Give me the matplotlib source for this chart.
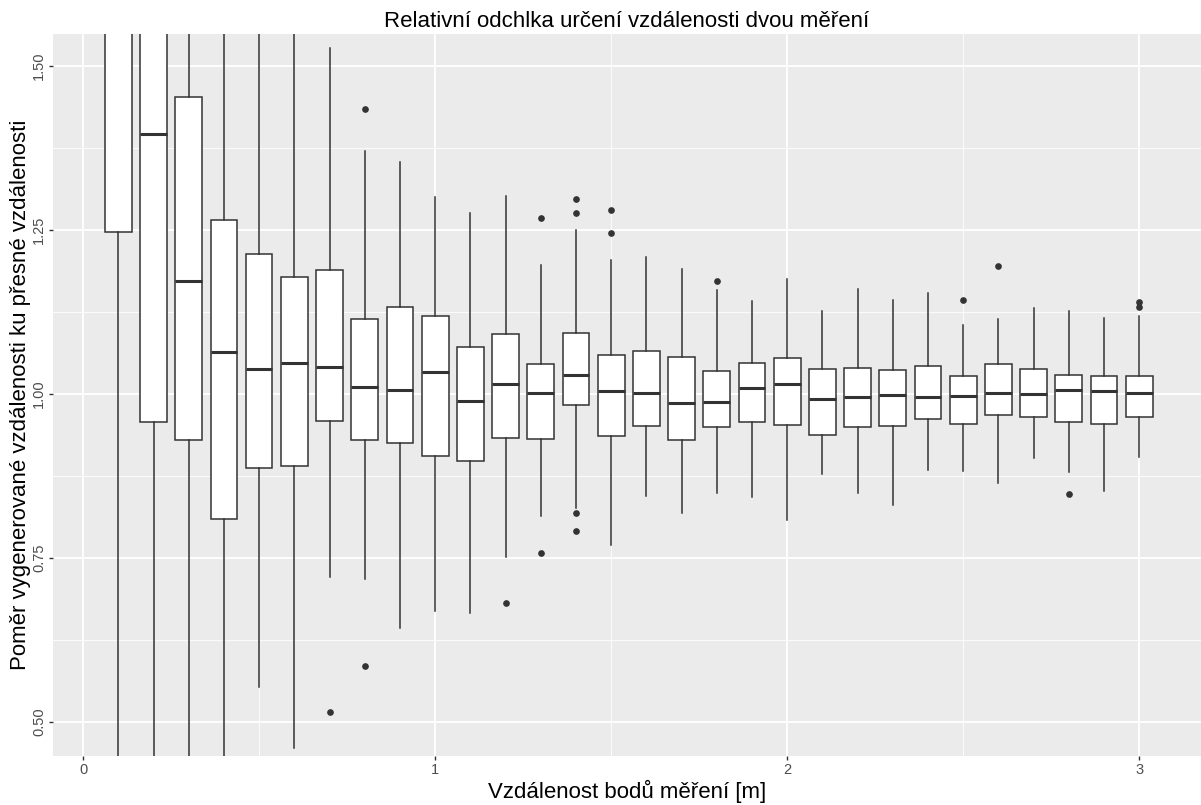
import numpy as np
import matplotlib
matplotlib.use("Agg")
import matplotlib.pyplot as plt
from matplotlib.ticker import MultipleLocator

plt.rcParams['font.family'] = ['Liberation Sans', 'DejaVu Sans']

# vzdalenosti (m) a statistiky krabicovych grafu
vzdalenost = [0.1, 0.2, 0.3, 0.4, 0.5, 0.6, 0.7, 0.8, 0.9, 1.0,
              1.1, 1.2, 1.3, 1.4, 1.5, 1.6, 1.7, 1.8, 1.9, 2.0,
              2.1, 2.2, 2.3, 2.4, 2.5, 2.6, 2.7, 2.8, 2.9, 3.0]
whis_lo = [0.30, 0.30, 0.30, 0.30, 0.554, 0.461, 0.721, 0.718, 0.643, 0.669,
           0.666, 0.752, 0.814, 0.826, 0.770, 0.845, 0.818, 0.849, 0.843, 0.808,
           0.878, 0.849, 0.831, 0.884, 0.883, 0.865, 0.902, 0.881, 0.852, 0.904]
q1 = [1.247, 0.958, 0.930, 0.810, 0.887, 0.890, 0.959, 0.930, 0.925, 0.905,
      0.898, 0.933, 0.931, 0.983, 0.936, 0.952, 0.930, 0.950, 0.958, 0.953,
      0.9375, 0.949, 0.952, 0.962, 0.954, 0.968, 0.965, 0.958, 0.955, 0.965]
median = [1.85, 1.396, 1.172, 1.064, 1.038, 1.047, 1.041, 1.011, 1.006, 1.034,
          0.989, 1.015, 1.001, 1.029, 1.004, 1.002, 0.986, 0.988, 1.009, 1.015,
          0.993, 0.995, 0.998, 0.996, 0.997, 1.002, 1.000, 1.006, 1.004, 1.002]
q3 = [2.50, 1.90, 1.453, 1.265, 1.214, 1.179, 1.189, 1.114, 1.133, 1.119,
      1.071, 1.091, 1.046, 1.093, 1.059, 1.065, 1.056, 1.035, 1.048, 1.055,
      1.038, 1.040, 1.036, 1.043, 1.028, 1.045, 1.038, 1.029, 1.028, 1.028]
whis_hi = [4.00, 3.00, 2.30, 2.00, 1.70, 1.70, 1.528, 1.370, 1.354, 1.300,
           1.276, 1.302, 1.196, 1.250, 1.204, 1.209, 1.191, 1.159, 1.142, 1.175,
           1.127, 1.160, 1.143, 1.154, 1.105, 1.114, 1.131, 1.127, 1.116, 1.119]
odlehle = [[], [], [], [], [], [], [0.515], [1.435, 0.586], [], [],
           [], [0.682], [1.268, 0.757], [1.298, 1.276, 0.819, 0.791], [1.280, 1.245], [], [], [1.173], [], [],
           [], [], [], [], [1.143], [1.195], [], [0.848], [], [1.140, 1.133]]

stats = []
for i in range(len(vzdalenost)):
    stats.append({'whislo': whis_lo[i], 'q1': q1[i], 'med': median[i],
                  'q3': q3[i], 'whishi': whis_hi[i], 'fliers': odlehle[i]})

fig = plt.figure(figsize=(12.01, 8.05), dpi=100)
ax = fig.add_axes([53/1201, 1 - 756/805, 1 - 53/1201, (756 - 34)/805])
ax.set_facecolor('#EBEBEB')

ax.bxp(stats, positions=vzdalenost, widths=0.076, patch_artist=True,
       boxprops=dict(facecolor='white', edgecolor='#333333', linewidth=1.1),
       medianprops=dict(color='#333333', linewidth=2.2),
       whiskerprops=dict(color='#333333', linewidth=1.1),
       showcaps=False,
       flierprops=dict(marker='o', markerfacecolor='#333333', markeredgecolor='#333333',
                       markersize=3.8, linestyle='none'),
       manage_ticks=False, zorder=3)

ax.set_xlim(-0.0855, 3.1755)
ax.set_ylim(0.4482, 1.5488)
ax.xaxis.set_major_locator(MultipleLocator(1))
ax.xaxis.set_minor_locator(MultipleLocator(0.5))
ax.yaxis.set_major_locator(MultipleLocator(0.25))
ax.yaxis.set_minor_locator(MultipleLocator(0.125))
ax.set_yticks([0.5, 0.75, 1.0, 1.25, 1.5])
ax.set_yticklabels(['0.50', '0.75', '1.00', '1.25', '1.50'], rotation=90, va='center')
ax.set_xticks([0, 1, 2, 3])
ax.set_xticklabels(['0', '1', '2', '3'])

ax.grid(which='major', color='white', linewidth=1.3, zorder=0)
ax.grid(which='minor', color='white', linewidth=0.6, zorder=0)
ax.set_axisbelow(True)
for s in ax.spines.values():
    s.set_visible(False)
ax.tick_params(which='major', length=3, width=1, color='#333333',
               labelcolor='#4D4D4D', labelsize=10.5, pad=2)
ax.tick_params(which='minor', length=0)

ax.set_title('Relativní odchlka určení vzdálenosti dvou měření', fontsize=16, pad=5)
ax.set_xlabel('Vzdálenost bodů měření [m]', fontsize=16, labelpad=2)
ax.set_ylabel('Poměr vygenerované vzdálenosti ku přesné vzdálenosti', fontsize=16, labelpad=1)

fig.savefig('out.png', dpi=100)
